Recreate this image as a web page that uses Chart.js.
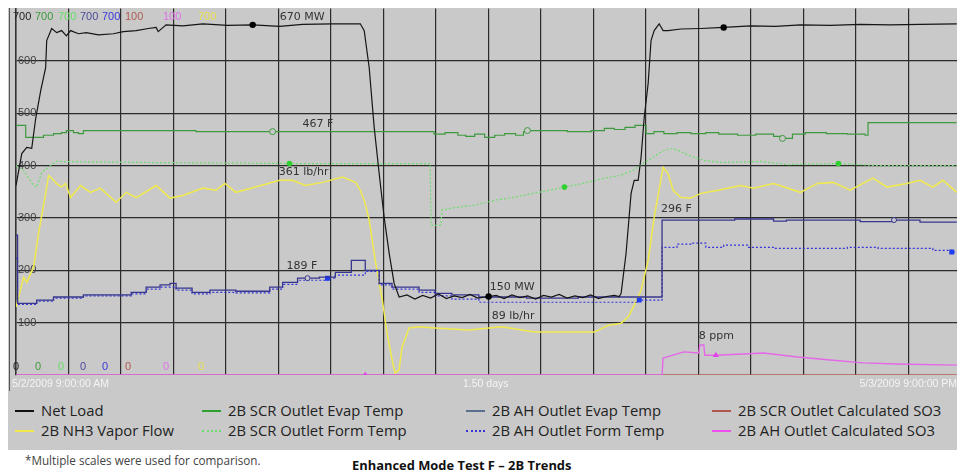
<!DOCTYPE html>
<html>
<head>
<meta charset="utf-8">
<script src="https://cdn.jsdelivr.net/npm/chart.js@4.4.1/dist/chart.umd.min.js"></script>
<style>
  body { margin: 0; background: #fff; width: 957px; height: 475px; position: relative; overflow: hidden; font-family: "Open Sans", sans-serif; }
  #panel { position: absolute; left: 8px; top: 8px; width: 949px; height: 442px; background: #c9c9c9; }
  #edge { position: absolute; left: 9px; top: 8px; width: 1px; height: 383px; background: #555; }
  #wrap { position: absolute; left: 0; top: 0; width: 957px; height: 392px; }
  .strip { position: absolute; top: 377px; font: 10.5px "Liberation Sans", Arial, sans-serif; color: #f4f4f4; white-space: nowrap; }
  .item { position: absolute; font-size: 14.8px; color: #222; white-space: nowrap; line-height: 18px; }
  .sw { display: inline-block; width: 19px; height: 0; vertical-align: middle; margin-right: 7px; position: relative; top: -1px; }
  #note { position: absolute; left: 25px; top: 452px; font-size: 11.7px; color: #444; }
  #title { position: absolute; left: 352px; top: 456px; font-size: 12.9px; font-weight: bold; color: #111; }
</style>
</head>
<body>
<div id="panel"></div>
<div id="edge"></div>
<div id="wrap"><canvas id="chart" width="957" height="392"></canvas></div>
<div class="strip" id="start"></div>
<div class="strip" id="span"></div>
<div class="strip" id="end"></div>
<div id="legend"></div>
<div id="note">*Multiple scales were used for comparison.</div>
<div id="title">Enhanced Mode Test F – 2B Trends</div>
<script>
// series names, in legend order (column by column)
const seriesNames = ['Net Load', '2B NH3 Vapor Flow', '2B SCR Outlet Evap Temp', '2B SCR Outlet Form Temp',
    '2B AH Outlet Evap Temp', '2B AH Outlet Form Temp', '2B SCR Outlet Calculated SO3', '2B AH Outlet Calculated SO3'];

// hours after 5/2/2009 9:00 AM
const netLoadHours = [0, 0.22, 0.41, 0.60, 0.75, 0.94, 1.13, 1.17, 1.36, 1.55,
    1.74, 1.92, 2.08, 2.38, 2.68, 3.14, 3.71, 4.09, 4.58, 5.04,
    5.34, 5.42, 5.72, 6.36, 7.12, 8.07, 9.02, 10.05, 10.92, 12.06,
    13.12, 13.27, 13.46, 13.65, 13.84, 14.03, 14.22, 14.41, 14.60,
    14.9, 15.2, 15.5, 15.8, 16.1, 16.4, 16.7, 17.0, 17.3, 17.6,
    18.01, 18.3, 18.6, 18.9, 19.2, 19.5, 19.8, 20.1, 20.4, 20.7,
    21.0, 21.3, 21.6, 21.9, 22.2, 22.5, 22.8, 22.99,
    23.06, 23.25, 23.44, 23.56, 23.71, 23.82, 23.94, 24.09, 24.20, 24.32,
    24.51, 24.66, 24.85, 25.34, 26.10, 26.97, 28.00, 28.94, 29.89, 31.03,
    32.17, 33.31, 34.45, 35.85];
const netLoadMW = [362, 423, 435, 433, 490, 543, 587, 639, 662, 654,
    658, 648, 658, 652, 654, 650, 652, 656, 658, 662,
    664, 656, 669, 667, 671, 668, 669, 666, 670, 671,
    671, 658, 587, 473, 385, 301, 233, 175, 149,
    153, 145, 152, 147, 155, 146, 151, 148, 154, 147,
    150, 152, 146, 153, 148, 151, 145, 152, 149, 154,
    147, 151, 148, 153, 146, 150, 152, 150,
    156, 233, 347, 372, 372, 416, 492, 557, 639, 658,
    671, 658, 658, 661, 662, 664, 667, 666, 669, 668,
    670, 669, 670, 671];
const netLoadMarks = [9.02, 18.01, 26.97];

const nh3Hours = [0, 0.29, 0.41, 0.67, 0.86, 1.13, 1.24, 1.36, 1.54, 1.73,
    1.89, 2.08, 2.46, 2.84, 3.21, 3.82, 4.20, 4.58, 5.34, 5.87,
    6.36, 7.12, 7.62, 7.96, 8.38, 9.13, 10.05, 10.54, 11.03, 11.68,
    12.44, 12.94, 13.12, 13.27, 13.46, 13.69, 13.96, 14.14, 14.33, 14.45,
    14.60, 14.71, 14.98, 15.36, 15.97, 17.26, 18.51, 19.76, 21.05, 22.04,
    22.57, 23.06, 23.33, 23.56, 23.82, 24.09, 24.32, 24.66, 24.85, 25.04,
    25.34, 25.72, 26.10, 26.75, 27.62, 28.11, 28.87, 29.89, 30.54, 31.14,
    31.79, 32.66, 33.19, 33.95, 34.45, 34.94, 35.32, 35.85];
const nh3Flow = [130, 187, 177, 206, 271, 347, 381, 376, 366, 359,
    366, 339, 362, 349, 357, 330, 349, 339, 362, 338,
    343, 357, 353, 366, 349, 359, 372, 372, 362, 368,
    378, 368, 353, 334, 296, 219, 143, 80, 29, 4,
    10, 53, 90, 92, 90, 86, 92, 82, 82, 82,
    95, 99, 111, 133, 162, 219, 301, 397, 385, 353,
    339, 338, 347, 353, 362, 357, 366, 349, 366, 368,
    353, 376, 359, 366, 372, 359, 372, 349];

const scrEvapHours = [0, 0.37, 1.05, 1.43, 1.73, 1.92, 2.19, 2.38, 2.57, 6.86,
    9.78, 15.93, 16.35, 16.84, 17.14, 17.48, 17.86, 18.24, 18.62, 19.04,
    19.34, 19.49, 20.03, 21.01, 21.92, 22.42, 22.80, 23.21, 23.59, 24.01,
    24.31, 24.69, 25.19, 25.72, 26.29, 26.78, 27.50, 28.19, 28.87, 29.21,
    29.59, 30.08, 30.88, 31.68, 32.36, 32.47, 35.85];
const scrEvapTemp = [477, 454, 458, 461, 463, 467, 463, 461, 467, 465,
    465, 460, 463, 458, 456, 460, 454, 458, 461, 458,
    465, 467, 467, 465, 467, 471, 469, 473, 477, 461,
    465, 461, 463, 461, 463, 460, 458, 460, 456, 452,
    460, 463, 461, 460, 458, 482, 482];
const scrEvapMarks = [9.78, 19.49, 29.21];

const scrFormHours = [0, 0.29, 0.67, 0.79, 0.98, 1.43, 1.54, 5.0, 10.42, 15.78,
    15.82, 16.19, 16.23, 16.72, 17.45, 18.24, 18.93, 19.72, 20.52, 20.90,
    21.62, 22.42, 22.99, 23.52, 23.90, 24.39, 24.69, 25.00, 25.34, 25.72,
    26.21, 26.90, 28.37, 29.40, 31.34, 32.85, 35.85];
const scrFormTemp = [400, 391, 362, 359, 387, 404, 408, 406, 404, 404,
    286, 286, 315, 320, 324, 334, 339, 347, 355, 359,
    366, 376, 381, 391, 404, 420, 429, 433, 427, 418,
    410, 406, 408, 402, 404, 400, 400];
const scrFormMarks = [10.42, 20.90, 31.34];

const ahEvapHours = [0, 0.06, 0.79, 1.43, 2.57, 4.39, 4.96, 5.49, 5.87, 6.10,
    6.71, 7.39, 8.38, 9.67, 10.16, 10.73, 11.11, 11.56, 12.17, 12.78,
    13.31, 13.84, 14.33, 15.36, 15.97, 16.61, 17.64, 19.46, 21.43, 23.52,
    24.62, 27.39, 28.87, 29.36, 32.17, 33.46, 34.45, 35.85];
const ahEvapTemp = [267, 137, 143, 149, 153, 158, 168, 172, 175, 166,
    158, 162, 160, 168, 177, 185, 185, 187, 196, 219,
    200, 175, 168, 162, 156, 153, 149, 147, 149, 149,
    296, 298, 294, 296, 293, 296, 292, 292];
const ahEvapMarks = [11.11, 33.46];

const ahFormHours = [0, 0.06, 0.79, 1.43, 2.57, 4.39, 4.96, 5.49, 6.10, 6.71,
    7.39, 8.38, 9.67, 10.16, 10.73, 11.87, 12.17, 13.31, 13.84, 14.33,
    15.36, 15.97, 16.61, 17.64, 23.75, 24.62, 25.19, 25.72, 26.29, 26.97,
    27.88, 28.87, 30.50, 31.68, 32.85, 34.45, 34.94, 35.66, 35.85];
const ahFormTemp = [223, 135, 141, 147, 151, 155, 164, 168, 162, 155,
    158, 157, 164, 173, 181, 185, 191, 198, 172, 164,
    158, 151, 145, 139, 143, 244, 250, 252, 244, 248,
    244, 242, 242, 244, 242, 242, 238, 235, 235];
const ahFormMarks = [11.87, 23.75, 35.66];

const scrSo3Hours = [0, 35.85];
const scrSo3Ppm = [0, 0];

const ahSo3Hours = [0, 13.31, 24.62, 24.66, 25.45, 26.02, 26.06, 26.21, 26.25, 26.67,
    27.28, 28.49, 29.78, 31.03, 32.28, 33.57, 35.85];
const ahSo3Ppm = [0, 0, 0, 4.6, 6.3, 6.0, 8.2, 8.2, 5.4, 5.4,
    5.6, 6.0, 4.9, 4.1, 3.3, 3.0, 2.7];
const ahSo3Marks = [13.31, 26.67];

// axis labels
const yTicks = [100, 200, 300, 400, 500, 600];
const xGridHours = [2, 4, 6, 8, 10, 12, 14, 16, 18, 20, 22, 24, 26, 28, 30, 32, 34];
const scaleTopLabels = ['700', '700', '700', '700', '700', '100', '100', '700'];
const scaleBottomLabels = ['0', '0', '0', '0', '0', '0', '0', '0'];
const startLabel = '5/2/2009 9:00:00 AM';
const spanLabel = '1.50 days';
const endLabel = '5/3/2009 9:00:00 PM';

// value notes
const noteTexts = ['670 MW', '467 F', '361 lb/hr', '189 F', '150 MW', '89 lb/hr', '296 F', '8 ppm'];
const noteHours = [10.05, 10.92, 10.01, 10.31, 18.05, 18.13, 24.58, 26.02];
const noteValues = [683, 479, 387, 208, 168, 113, 317, 74];

// scale label colours: net load, scr evap, scr form, ah evap, ah form, scr so3, ah so3, nh3
const scaleColors = ['#222', '#3c9a3c', '#66dd66', '#4a4a9a', '#3a3ad8', '#b05a50', '#e070e8', '#e8e050'];
const scaleLefts = [13, 35, 58, 80, 102, 125, 163, 198];

function pts(hours, values) {
    return hours.map((h, i) => ({ x: h, y: values[i] }));
}
function marks(hours, list, r) {
    return ctx => list.includes(hours[ctx.dataIndex]) ? r : 0;
}

const datasets = [
    { label: seriesNames[0], data: pts(netLoadHours, netLoadMW), borderColor: '#151515', borderWidth: 1.2,
        pointRadius: marks(netLoadHours, netLoadMarks, 3.2), pointBackgroundColor: '#000', pointBorderWidth: 0, order: 0 },
    { label: seriesNames[1], data: pts(nh3Hours, nh3Flow), borderColor: '#f0ea4c', borderWidth: 1.5,
        pointRadius: 0, order: 5 },
    { label: seriesNames[2], data: pts(scrEvapHours, scrEvapTemp), borderColor: '#3f9a3f', borderWidth: 1.2, stepped: true,
        pointRadius: marks(scrEvapHours, scrEvapMarks, 3), pointBackgroundColor: '#c9c9c9', pointBorderColor: '#3f9a3f', pointBorderWidth: 1, order: 3 },
    { label: seriesNames[3], data: pts(scrFormHours, scrFormTemp), borderColor: '#6cde6c', borderWidth: 1.2, borderDash: [2, 2],
        pointRadius: marks(scrFormHours, scrFormMarks, 2.8), pointBackgroundColor: '#2fd02f', pointBorderWidth: 0, order: 4 },
    { label: seriesNames[4], data: pts(ahEvapHours, ahEvapTemp), borderColor: '#36368e', borderWidth: 1.3, stepped: true,
        pointRadius: marks(ahEvapHours, ahEvapMarks, 2.5), pointBackgroundColor: '#c9c9c9', pointBorderColor: '#36368e', pointBorderWidth: 1, order: 1 },
    { label: seriesNames[5], data: pts(ahFormHours, ahFormTemp), borderColor: '#3434d8', borderWidth: 1.2, borderDash: [2, 2], stepped: true,
        pointRadius: marks(ahFormHours, ahFormMarks, 3.5), pointStyle: 'rect', pointBackgroundColor: '#1c3cf0', pointBorderWidth: 0, order: 2 },
    { label: seriesNames[6], data: pts(scrSo3Hours, scrSo3Ppm), yAxisID: 'y2', borderColor: '#b05a50', borderWidth: 1.3,
        pointRadius: 0, order: 8 },
    { label: seriesNames[7], data: pts(ahSo3Hours, ahSo3Ppm), yAxisID: 'y2', borderColor: '#e468e8', borderWidth: 1.4,
        pointRadius: marks(ahSo3Hours, ahSo3Marks, 3.5), pointStyle: 'triangle', pointBackgroundColor: '#e040e8', pointBorderWidth: 0, order: 6 }
];

const overlayText = {
    id: 'overlayText',
    afterDatasetsDraw(chart) {
        const { ctx, chartArea, scales } = chart;
        ctx.save();
        ctx.textBaseline = 'middle';
        ctx.font = '11px "Liberation Sans", Arial, sans-serif';
        scaleTopLabels.forEach((txt, i) => {
            ctx.fillStyle = scaleColors[i];
            ctx.fillText(txt, scaleLefts[i], chartArea.top + 8);
        });
        scaleBottomLabels.forEach((txt, i) => {
            ctx.fillStyle = scaleColors[i];
            ctx.fillText(txt, scaleLefts[i], chartArea.bottom - 8);
        });
        ctx.fillStyle = '#333';
        ctx.font = '11px "DejaVu Sans", sans-serif';
        noteTexts.forEach((txt, i) => {
            ctx.fillText(txt, scales.x.getPixelForValue(noteHours[i]), scales.y.getPixelForValue(noteValues[i]));
        });
        ctx.restore();
    }
};

new Chart(document.getElementById('chart'), {
    type: 'line',
    data: { datasets: datasets },
    options: {
        responsive: false,
        animation: false,
        events: [],
        layout: { padding: { left: 12, top: 8, right: 0, bottom: 17 } },
        elements: { line: { tension: 0 } },
        plugins: { legend: { display: false }, tooltip: { enabled: false } },
        scales: {
            x: {
                type: 'linear', min: 0, max: 35.86,
                afterBuildTicks: s => { s.ticks = xGridHours.map(v => ({ value: v })); },
                ticks: { display: false },
                grid: { color: '#2b2b2b', lineWidth: 1.2, drawTicks: false },
                border: { display: false }
            },
            y: {
                min: 0, max: 700,
                afterBuildTicks: s => { s.ticks = yTicks.map(v => ({ value: v })); },
                ticks: { mirror: true, padding: 2, color: '#404040', font: { family: 'Liberation Sans', size: 11 } },
                grid: { color: '#2b2b2b', lineWidth: 1.2, drawTicks: false },
                border: { display: true, color: '#333', width: 1.6 }
            },
            y2: { display: false, min: 0, max: 100 }
        }
    },
    plugins: [overlayText]
});

// date strip
const startEl = document.getElementById('start');
startEl.textContent = startLabel;
startEl.style.left = '12px';
const spanEl = document.getElementById('span');
spanEl.textContent = spanLabel;
spanEl.style.left = '463px';
const endEl = document.getElementById('end');
endEl.textContent = endLabel;
endEl.style.right = '0px';

// legend, two rows per column
const swatchColors = ['#111', '#f0ea4c', '#2ea02e', '#6cde6c', '#5a6e90', '#3434d8', '#b05850', '#f050f0'];
const swatchDotted = [false, false, false, true, false, true, false, false];
const colLefts = [15, 202, 466, 712];
const rowTops = [401, 421];
const legend = document.getElementById('legend');
seriesNames.forEach((name, i) => {
    const item = document.createElement('div');
    item.className = 'item';
    item.style.left = colLefts[Math.floor(i / 2)] + 'px';
    item.style.top = rowTops[i % 2] + 'px';
    const sw = document.createElement('span');
    sw.className = 'sw';
    sw.style.borderTop = (swatchDotted[i] ? '2px dotted ' : '2.5px solid ') + swatchColors[i];
    item.appendChild(sw);
    item.appendChild(document.createTextNode(name));
    legend.appendChild(item);
});
</script>
</body>
</html>
